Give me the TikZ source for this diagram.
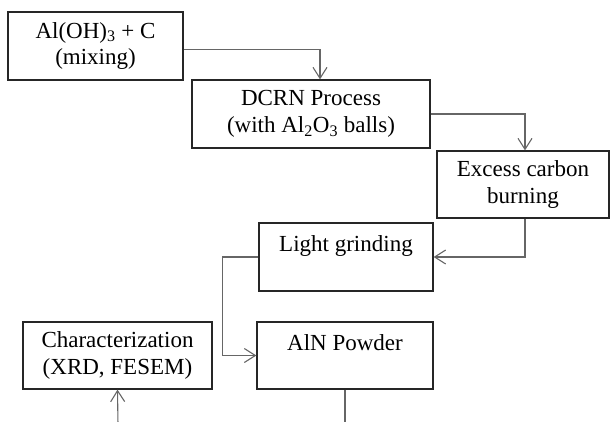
\documentclass[tikz,border=0pt]{standalone}
\usepackage{fontspec}
\setmainfont{Liberation Serif}
\usetikzlibrary{arrows.meta}
\begin{document}
\begin{tikzpicture}[x=1pt,y=-1pt,
  box/.style={draw=black!85,line width=1.3pt,fill=white,align=center,inner sep=0pt,
    font=\fontsize{23}{26.5}\selectfont},
  conn/.style={draw=black!60,line width=1.1pt},
  arr/.style={conn,-{Straight Barb[length=11pt,width=14pt,line width=1.1pt]}}]
\useasboundingbox (0,0) rectangle (610,421);
\node[box,minimum width=175pt,minimum height=68pt] (mix) at (95.5,46) {Al(OH)\textsubscript{3} + C\\(mixing)};
\node[box,minimum width=238pt,minimum height=68pt] (dcrn) at (311,114) {DCRN Process\\(with Al\textsubscript{2}O\textsubscript{3} balls)};
\node[box,minimum width=172pt,minimum height=67pt] (burn) at (523,184.5) {Excess carbon\\burning};
\node[box,minimum width=174pt,minimum height=68pt] (grind) at (346,257) {Light grinding\\~};
\node[box,minimum width=176pt,minimum height=67pt] (aln) at (345,355.5) {AlN Powder\\~};
\node[box,minimum width=189pt,minimum height=67pt] (char) at (117.5,355.5) {Characterization\\(XRD, FESEM)};
\coordinate (alnout) at (345,425);
\coordinate (charin) at (118,425);
\draw[arr] ([yshift=-3.5pt]mix.east) -| ([xshift=9pt]dcrn.north);
\draw[arr] (dcrn.east) -| ([xshift=2pt]burn.north);
\draw[arr] ([xshift=2pt]burn.south) |- (grind.east);
\draw[arr] (grind.west) -- ++(-36,0) |- (aln.west);
\draw[conn] (aln.south) -- (alnout);
\draw[arr] (charin) -- (char.south);
\end{tikzpicture}
\end{document}
